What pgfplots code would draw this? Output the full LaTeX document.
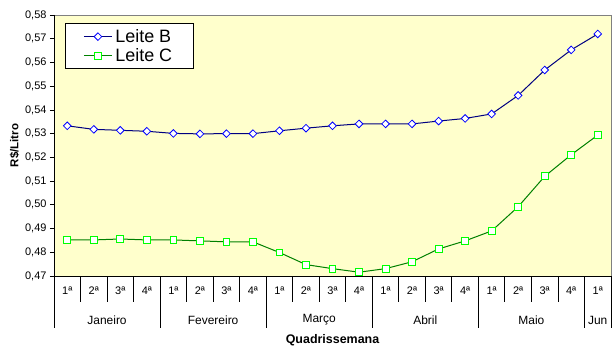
\documentclass[border=0pt]{standalone}
\usepackage{pgfplots}
\pgfplotsset{compat=1.18}
\usepackage{fontspec}
\setmainfont{Liberation Sans}
\definecolor{plotbg}{HTML}{FFFFCC}
\definecolor{lineB}{HTML}{000080}
\definecolor{markB}{HTML}{0000FF}
\definecolor{lineC}{HTML}{008000}
\definecolor{markC}{HTML}{00FF00}
\begin{document}
\begin{tikzpicture}
\begin{axis}[
  scale only axis, width=557bp, height=261bp,
  xmin=-0.5, xmax=20.5, ymin=0.47, ymax=0.58,
  clip=false,
  axis background/.style={fill=plotbg},
  axis line style={draw=none},
  xtick={0,...,20},
  xticklabels={1ª,2ª,3ª,4ª,1ª,2ª,3ª,4ª,1ª,2ª,3ª,4ª,1ª,2ª,3ª,4ª,1ª,2ª,3ª,4ª,1ª},
  xtick style={draw=none},
  xticklabel style={yshift=-3bp},
  ytick={0.47,0.48,...,0.58},
  ytick style={black, line width=0.8bp},
  tick align=outside, major tick length=4bp,
  ytick pos=left,
  tick label style={font=\fontsize{11}{13}\selectfont},
  /pgf/number format/.cd, use comma, fixed, fixed zerofill, precision=2, assume math mode=true,
  /pgfplots/.cd,
  ylabel={\bfseries R\$/Litro},
  ylabel style={font=\fontsize{11.5}{13}\selectfont, yshift=-1bp},
  legend style={at={(0,1)}, anchor=north west, xshift=11bp, yshift=-8.5bp,
    font=\fontsize{18}{21}\selectfont, draw=black, line width=0.8bp, fill=white,
    inner xsep=18bp, inner ysep=3.5bp, row sep=0.5bp,
    nodes={inner xsep=3bp}},
  legend cell align=left,
  legend image code/.code={\draw[mark repeat=2,mark phase=2] plot coordinates {(0bp,0bp) (14bp,0bp) (28bp,0bp)};},
]
\addplot[lineB, line width=1bp, mark=square*, mark size=2.7bp,
  mark options={rotate=45, draw=markB, fill=white, line width=0.8bp}]
  coordinates {(0,0.5333)(1,0.5318)(2,0.5314)(3,0.5310)(4,0.5301)(5,0.5299)(6,0.5300)(7,0.5300)
  (8,0.5312)(9,0.5323)(10,0.5333)(11,0.5341)(12,0.5341)(13,0.5341)(14,0.5353)(15,0.5364)
  (16,0.5383)(17,0.5461)(18,0.5568)(19,0.5653)(20,0.5720)};
\addlegendentry{Leite B}
\addplot[lineC, line width=1bp, mark=square*, mark size=3.4bp,
  mark options={draw=markC, fill=white, line width=0.9bp}]
  coordinates {(0,0.4852)(1,0.4852)(2,0.4856)(3,0.4852)(4,0.4852)(5,0.4848)(6,0.4844)(7,0.4844)
  (8,0.4799)(9,0.4748)(10,0.4731)(11,0.4716)(12,0.4731)(13,0.4760)(14,0.4814)(15,0.4848)
  (16,0.4890)(17,0.4992)(18,0.5120)(19,0.5211)(20,0.5294)};
\addlegendentry{Leite C}
% frame
\draw[gray, line width=0.8bp] (rel axis cs:0,1) -- (rel axis cs:1,1) -- (rel axis cs:1,0);
\draw[black, line width=0.9bp] (rel axis cs:0,1) -- (rel axis cs:0,0) -- (rel axis cs:1,0);
% week separators
\pgfplotsinvokeforeach{0.5,1.5,2.5,4.5,5.5,6.5,8.5,9.5,10.5,12.5,13.5,14.5,16.5,17.5,18.5}{
  \draw[black, line width=0.9bp] (axis cs:#1,0.47) -- ++(0bp,-26bp);}
% month separators
\pgfplotsinvokeforeach{-0.5,3.5,7.5,11.5,15.5,19.5,20.5}{
  \draw[black, line width=0.9bp] (axis cs:#1,0.47) -- ++(0bp,-52bp);}
% month labels
\node[font=\fontsize{12}{14}\selectfont] at ([yshift=-44bp]axis cs:1.5,0.47) {Janeiro};
\node[font=\fontsize{12}{14}\selectfont] at ([yshift=-44bp]axis cs:5.5,0.47) {Fevereiro};
\node[font=\fontsize{12}{14}\selectfont] at ([yshift=-44bp]axis cs:9.5,0.47) {Março};
\node[font=\fontsize{12}{14}\selectfont] at ([yshift=-44bp]axis cs:13.5,0.47) {Abril};
\node[font=\fontsize{12}{14}\selectfont] at ([yshift=-44bp]axis cs:17.5,0.47) {Maio};
\node[font=\fontsize{12}{14}\selectfont] at ([yshift=-44bp]axis cs:20,0.47) {Jun};
\node[font=\bfseries\fontsize{12.5}{14}\selectfont] at ([yshift=-64bp]axis cs:10,0.47) {Quadrissemana};
% bounding box
\path[use as bounding box] ([xshift=-54bp,yshift=-79bp]rel axis cs:0,0) rectangle ([xshift=5bp,yshift=15bp]rel axis cs:1,1);
\end{axis}
\end{tikzpicture}
\end{document}
